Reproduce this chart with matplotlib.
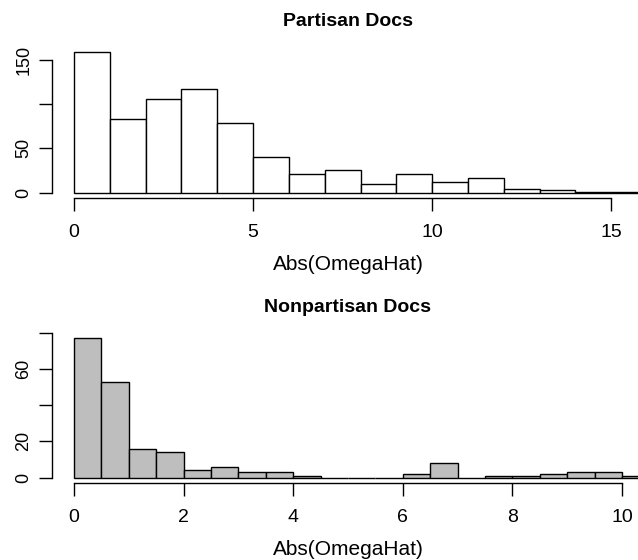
import matplotlib
matplotlib.use("Agg")
import matplotlib.pyplot as plt
import numpy as np

plt.rcParams['font.family'] = ['Liberation Sans', 'DejaVu Sans']

# histogram counts
partisan_edges = np.arange(0, 17, 1.0)
partisan_counts = [158, 83, 105, 117, 79, 40, 21, 25, 10, 21, 12, 16, 4, 3, 1, 1]
partisan_ticks = [0, 5, 10, 15]
partisan_yticks = [0, 50, 100, 150]
partisan_ylabels = ["0", "50", "", "150"]

nonpartisan_edges = np.arange(0, 11, 0.5)
nonpartisan_counts = [77, 53, 16, 14, 4, 6, 3, 3, 1, 0, 0, 0, 2, 8, 0, 1, 1, 2, 3, 3, 1]
nonpartisan_ticks = [0, 2, 4, 6, 8, 10]
nonpartisan_yticks = [0, 20, 40, 60, 80]
nonpartisan_ylabels = ["0", "20", "", "60", ""]

W, H = 638, 560
fig = plt.figure(figsize=(W / 100, H / 100), dpi=100)


def px_axes(left, top, right, bottom):
    return fig.add_axes([left / W, 1 - bottom / H, (right - left) / W, (bottom - top) / H])


def r_hist(ax, edges, counts, color, xrange_, xticks, yticks, ylabels, title, title_y):
    widths = np.diff(edges)
    ax.bar(edges[:-1], counts, width=widths, align='edge', color=color,
           edgecolor='black', linewidth=1.0)
    ymax = max(counts)
    ax.set_ylim(-0.04 * ymax, 1.04 * ymax)
    ax.set_xlim(-0.04 * xrange_, 1.04 * xrange_)
    for s in ['top', 'right']:
        ax.spines[s].set_visible(False)
    ax.spines['bottom'].set_bounds(xticks[0], xticks[-1])
    ax.spines['left'].set_bounds(yticks[0], yticks[-1])
    ax.spines['bottom'].set_linewidth(1.0)
    ax.spines['left'].set_linewidth(1.0)
    ax.set_xticks(xticks)
    ax.set_yticks(yticks)
    ax.set_yticklabels(ylabels)
    ax.tick_params(axis='both', length=9.7, width=1.0)
    ax.tick_params(axis='x', pad=9, labelsize=14)
    ax.tick_params(axis='y', pad=4.5, labelsize=13, labelrotation=90)
    for lab in ax.get_yticklabels():
        lab.set_va('center')
    ax.set_xlabel("Abs(OmegaHat)", fontsize=15, labelpad=10)
    fig.text(348 / W, 1 - title_y / H, title, ha='center', va='center',
             fontsize=14, fontweight='bold')


ax1 = px_axes(52, 46.8, 644, 198.3)
r_hist(ax1, partisan_edges, partisan_counts, 'white', 15.3, partisan_ticks,
       partisan_yticks, partisan_ylabels, "Partisan Docs", 21)

ax2 = px_axes(52, 332.4, 644, 483.3)
r_hist(ax2, nonpartisan_edges, nonpartisan_counts, '#bebebe', 10.0, nonpartisan_ticks,
       nonpartisan_yticks, nonpartisan_ylabels, "Nonpartisan Docs", 307)

fig.savefig("out.png", dpi=100)
